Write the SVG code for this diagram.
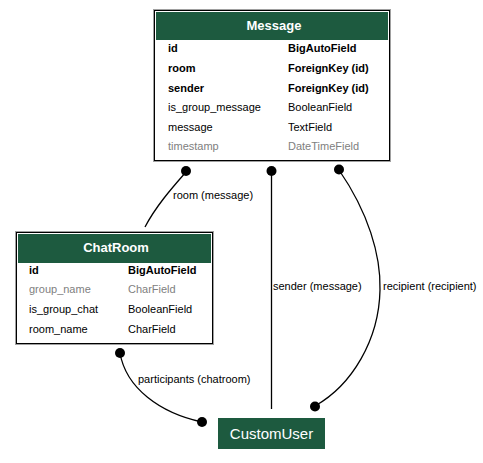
<svg xmlns="http://www.w3.org/2000/svg" width="483" height="463" viewBox="0 0 483 463">
<style>
  text { font-family: "Liberation Sans", Arial, sans-serif; font-size: 11px; fill: #000; }
  .hdr { fill: #1d5a3f; }
  .title { font-size: 13px; font-weight: bold; fill: #fff; text-anchor: middle; }
  .b { font-weight: bold; }
  .g { fill: #808080; }
  .frame { fill: #fff; stroke: #000; stroke-width: 1; }
  .shade { fill: none; stroke: #a0a0a0; stroke-width: 1; }
  .edge { fill: none; stroke: #000; stroke-width: 1.3; }
  .dot { fill: #000; }
  .lbl { font-size: 11px; }
</style>
<rect width="483" height="463" fill="#fff"/>
<g id="connectors">
  <path class="edge" d="M186,172 C172,188 156,206 145,227"/>
  <circle class="dot" cx="186" cy="171" r="5"/>
  <text class="lbl" x="173" y="199">room (message)</text>

  <path class="edge" d="M271.5,172 V409"/>
  <circle class="dot" cx="271.5" cy="171" r="5"/>
  <text class="lbl" x="273" y="290">sender (message)</text>

  <path class="edge" d="M339,170 C368,212 381,255 380,290 C379,340 352,385 315,406"/>
  <circle class="dot" cx="339" cy="169.5" r="5"/>
  <circle class="dot" cx="315" cy="406.5" r="5"/>
  <text class="lbl" x="383" y="290">recipient (recipient)</text>

  <path class="edge" d="M120,353 C126,388 160,413 202,422"/>
  <circle class="dot" cx="120" cy="353" r="5"/>
  <circle class="dot" cx="202" cy="422" r="5"/>
  <text class="lbl" x="138" y="383">participants (chatroom)</text>
</g>
<g id="Message">
  <rect class="shade" x="153.5" y="9.5" width="237" height="152"/>
  <rect class="frame" x="154.5" y="10.5" width="235" height="150"/>
  <rect class="hdr" x="156" y="12" width="232" height="28"/>
  <text class="title" x="274" y="30">Message</text>
  <text class="b" x="168" y="52">id</text><text class="b" x="288" y="52">BigAutoField</text>
  <text class="b" x="168" y="72">room</text><text class="b" x="288" y="72">ForeignKey (id)</text>
  <text class="b" x="168" y="92">sender</text><text class="b" x="288" y="92">ForeignKey (id)</text>
  <text x="168" y="111">is_group_message</text><text x="288" y="111">BooleanField</text>
  <text x="168" y="131">message</text><text x="288" y="131">TextField</text>
  <text class="g" x="168" y="150">timestamp</text><text class="g" x="288" y="150">DateTimeField</text>
</g>
<g id="ChatRoom">
  <rect class="shade" x="15.5" y="231.5" width="198" height="113"/>
  <rect class="frame" x="16.5" y="232.5" width="196" height="111"/>
  <rect class="hdr" x="18" y="234" width="193" height="29"/>
  <text class="title" x="116" y="252">ChatRoom</text>
  <text class="b" x="29" y="274">id</text><text class="b" x="128" y="274">BigAutoField</text>
  <text class="g" x="29" y="293">group_name</text><text class="g" x="128" y="293">CharField</text>
  <text x="29" y="313">is_group_chat</text><text x="128" y="313">BooleanField</text>
  <text x="29" y="333">room_name</text><text x="128" y="333">CharField</text>
</g>
<g id="CustomUser">
  <rect class="hdr" x="218" y="418" width="107" height="31"/>
  <text x="271.5" y="439" style="font-size:15px; fill:#fff; text-anchor:middle">CustomUser</text>
</g>
</svg>
